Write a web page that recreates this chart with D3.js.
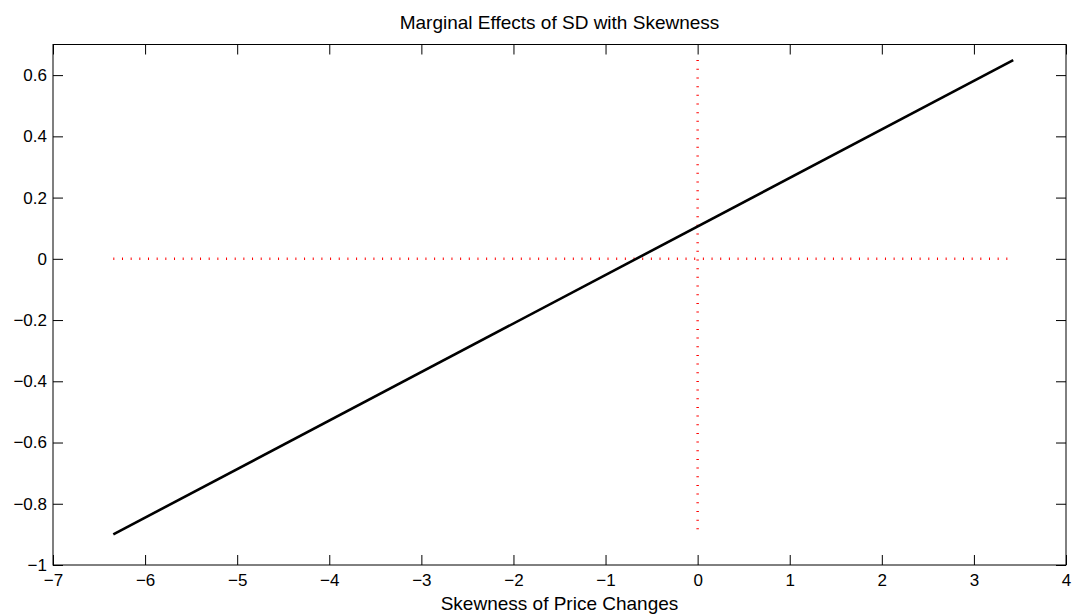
<!DOCTYPE html>
<html>
<head>
<meta charset="utf-8">
<script src="https://cdn.jsdelivr.net/npm/d3@7"></script>
<style>
  body { margin: 0; background: #fff; }
  text { font-family: "Liberation Sans", Arial, sans-serif; fill: #000; }
</style>
</head>
<body>
<div id="chart"></div>
<script>
'use strict';
// values
const xDomain = [-7, 4];
const yDomain = [-1, 0.7];
const xTicks = [-7, -6, -5, -4, -3, -2, -1, 0, 1, 2, 3, 4];
const yTicks = [-1, -0.8, -0.6, -0.4, -0.2, 0, 0.2, 0.4, 0.6];
const skewX = [-6.345, 3.427];
const effectY = [-0.90, 0.649];
const hRefX = [-6.345, 3.427];   // red dotted line at y = 0
const vRefY = [-0.90, 0.649];    // red dotted line at x = 0

const width = 1073, height = 616;
const margin = { top: 44.5, right: 7, bottom: 51, left: 53 };
const w = width - margin.left - margin.right;
const h = height - margin.top - margin.bottom;

const svg = d3.select("#chart").append("svg")
    .attr("width", width)
    .attr("height", height)
    .append("g")
    .attr("transform", "translate(" + margin.left + "," + margin.top + ")");

const x = d3.scaleLinear().domain(xDomain).range([0, w]);
const y = d3.scaleLinear().domain(yDomain).range([h, 0]);

const fmt = function (d) {
    let s = d3.format("")(+d.toFixed(2));
    return s.replace("-", "\u2212");
};

// axes, ticks pointing inward on all four sides
const tickLen = 10;
function styleAxis(g) {
    g.select(".domain").remove();
    g.selectAll(".tick line").attr("stroke", "#000").attr("stroke-width", 1);
    g.selectAll(".tick text").style("font-size", "17px");
}

svg.append("g")
    .attr("transform", "translate(0," + h + ")")
    .call(d3.axisBottom(x).tickValues(xTicks).tickFormat(fmt).tickSizeInner(-tickLen).tickSizeOuter(0).tickPadding(9))
    .call(styleAxis);

svg.append("g")
    .call(d3.axisTop(x).tickValues(xTicks).tickFormat("").tickSizeInner(-tickLen).tickSizeOuter(0))
    .call(styleAxis);

svg.append("g")
    .call(d3.axisLeft(y).tickValues(yTicks).tickFormat(fmt).tickSizeInner(-tickLen).tickSizeOuter(0).tickPadding(6))
    .call(styleAxis);

svg.append("g")
    .attr("transform", "translate(" + w + ",0)")
    .call(d3.axisRight(y).tickValues(yTicks).tickFormat("").tickSizeInner(-tickLen).tickSizeOuter(0))
    .call(styleAxis);

svg.append("rect")
    .attr("x", 0).attr("y", 0)
    .attr("width", w).attr("height", h)
    .attr("fill", "none")
    .attr("stroke", "#000")
    .attr("stroke-width", 1);

// reference lines
svg.append("line")
    .attr("x1", x(hRefX[0])).attr("x2", x(hRefX[1]))
    .attr("y1", y(0)).attr("y2", y(0))
    .attr("stroke", "#ff0000")
    .attr("stroke-width", 2.5)
    .attr("stroke-dasharray", "1,7.67");

svg.append("line")
    .attr("x1", x(0)).attr("x2", x(0))
    .attr("y1", y(vRefY[1])).attr("y2", y(vRefY[0]))
    .attr("stroke", "#ff0000")
    .attr("stroke-width", 2.5)
    .attr("stroke-dasharray", "1,7.67");

// marginal effect line
const line = d3.line()
    .x(function (d, i) { return x(skewX[i]); })
    .y(function (d) { return y(d); });

svg.append("path")
    .datum(effectY)
    .attr("d", line)
    .attr("fill", "none")
    .attr("stroke", "#000")
    .attr("stroke-width", 2.6);

// title and label
svg.append("text")
    .attr("x", w / 2)
    .attr("y", -15.5)
    .attr("text-anchor", "middle")
    .style("font-size", "19px")
    .text("Marginal Effects of SD with Skewness");

svg.append("text")
    .attr("x", w / 2)
    .attr("y", h + 44.5)
    .attr("text-anchor", "middle")
    .style("font-size", "19px")
    .text("Skewness of Price Changes");
</script>
</body>
</html>
